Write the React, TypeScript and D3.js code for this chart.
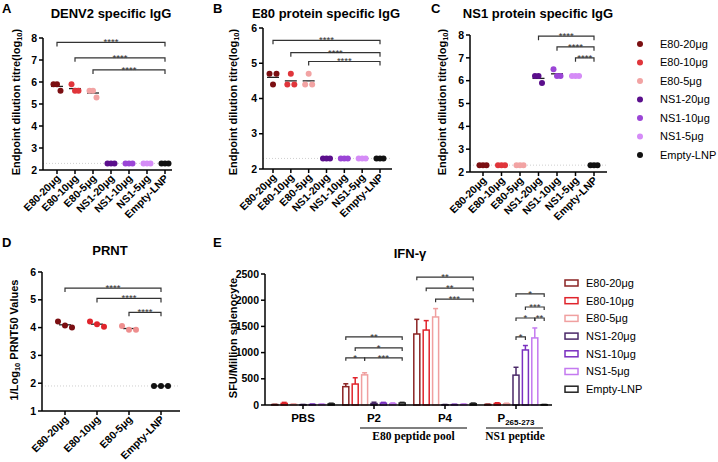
import React from "react";
import * as d3 from "d3";

const FONT = "'Liberation Sans', Arial, Helvetica, sans-serif";
const SERIF = "'Liberation Serif', 'Times New Roman', serif";

// groups used in A, B, C and legend
const groups = ["E80-20μg", "E80-10μg", "E80-5μg", "NS1-20μg", "NS1-10μg", "NS1-5μg", "Empty-LNP"];
const dotColours = ["#7b0f12", "#e0353b", "#f2a3a3", "#5b0f8c", "#9b45d6", "#d58cf7", "#111111"];
const barColours = ["#8b2323", "#e0242c", "#f0a0a0", "#4a2968", "#7a2fc0", "#c47af0", "#222222"];

// A: DENV2 specific IgG (log10 titre), 3 mice per group
const denvValues = [
  [5.9, 5.9, 5.6],
  [5.9, 5.6, 5.6],
  [5.6, 5.6, 5.3],
  [2.3, 2.3, 2.3],
  [2.3, 2.3, 2.3],
  [2.3, 2.3, 2.3],
  [2.3, 2.3, 2.3]
];
const denvSig = [
  { from: 0, to: 6, v: 7.8, label: "****" },
  { from: 1, to: 6, v: 7.1, label: "****" },
  { from: 2, to: 6, v: 6.55, label: "****" }
];

// B: E80 protein specific IgG
const e80Values = [
  [4.7, 4.4, 4.7],
  [4.4, 4.7, 4.4],
  [4.4, 4.7, 4.4],
  [2.3, 2.3, 2.3],
  [2.3, 2.3, 2.3],
  [2.3, 2.3, 2.3],
  [2.3, 2.3, 2.3]
];
const e80Sig = [
  { from: 0, to: 6, v: 5.65, label: "****" },
  { from: 1, to: 6, v: 5.3, label: "****" },
  { from: 2, to: 6, v: 5.05, label: "****" }
];

// C: NS1 protein specific IgG
const ns1Values = [
  [2.3, 2.3, 2.3],
  [2.3, 2.3, 2.3],
  [2.3, 2.3, 2.3],
  [6.2, 6.2, 5.9],
  [6.5, 6.2, 6.2],
  [6.2, 6.2, 6.2],
  [2.3, 2.3, 2.3]
];
const ns1Sig = [
  { from: 3, to: 6, v: 7.95, label: "****" },
  { from: 4, to: 6, v: 7.48, label: "****" },
  { from: 5, to: 6, v: 7.0, label: "****" }
];

// D: PRNT
const prntGroups = ["E80-20μg", "E80-10μg", "E80-5μg", "Empty-LNP"];
const prntColours = ["#7b0f12", "#e0242c", "#ee8e8e", "#111111"];
const prntValues = [
  [4.22, 4.08, 4.0],
  [4.22, 4.12, 4.03],
  [4.06, 3.92, 3.92],
  [1.9, 1.9, 1.9]
];
const prntSig = [
  { from: 0, to: 3, v: 5.42, label: "****" },
  { from: 1, to: 3, v: 5.05, label: "****" },
  { from: 2, to: 3, v: 4.55, label: "****" }
];

// E: IFN-γ ELISpot (SFU / million splenocytes), mean and SEM per stimulus
const stimuli = ["PBS", "P2", "P4", "P265"];
const ifnPBS = [8, 30, 12, 6, 10, 12, 22];
const ifnPBSErr = [5, 20, 8, 4, 8, 6, 12];
const ifnP2 = [350, 400, 575, 28, 35, 25, 38];
const ifnP2Err = [55, 120, 40, 25, 15, 15, 12];
const ifnP4 = [1355, 1430, 1680, 5, 8, 12, 25];
const ifnP4Err = [280, 180, 160, 5, 6, 8, 12];
const ifnP265 = [10, 28, 22, 570, 1050, 1280, 6];
const ifnP265Err = [6, 15, 12, 150, 85, 190, 4];
const ifnSig = [
  { s: 1, from: 0, to: 6, v: 1300, label: "**" },
  { s: 1, from: 1, to: 6, v: 1090, label: "*" },
  { s: 1, from: 0, to: 2, v: 900, label: "*" },
  { s: 1, from: 2, to: 6, v: 900, label: "***" },
  { s: 2, from: 0, to: 6, v: 2440, label: "**" },
  { s: 2, from: 1, to: 6, v: 2230, label: "**" },
  { s: 2, from: 2, to: 6, v: 2020, label: "***" },
  { s: 3, from: 3, to: 6, v: 2120, label: "*" },
  { s: 3, from: 4, to: 6, v: 1870, label: "***" },
  { s: 3, from: 3, to: 5, v: 1660, label: "*" },
  { s: 3, from: 5, to: 6, v: 1660, label: "**" },
  { s: 3, from: 3, to: 4, v: 1300, label: "*" }
];

function Bracket({ x1, x2, y, label, tick = 4 }) {
  return (
    <g>
      <path
        d={`M${x1},${y + tick}V${y}H${x2}V${y + tick}`}
        fill="none"
        stroke="#333"
        strokeWidth={1.2}
      />
      <text
        x={(x1 + x2) / 2}
        y={y + 3}
        textAnchor="middle"
        fontSize={9.5}
        fontFamily={FONT}
        fill="#333"
      >
        {label}
      </text>
    </g>
  );
}

function YLabel({ x, y, children }) {
  return (
    <text
      transform={`translate(${x},${y}) rotate(-90)`}
      textAnchor="middle"
      dominantBaseline="middle"
      fontSize={11}
      fontWeight="bold"
      fontFamily={FONT}
    >
      {children}
    </text>
  );
}

function DotPanel({
  letter, letterX, letterY, title, titleX, titleY,
  ylabel, ylabelX, ylabelY,
  cats, values, colours, domain, yRange, catRange, axisRange,
  lod, sig, spread
}) {
  const x = d3.scalePoint().domain(cats).range(catRange);
  const y = d3.scaleLinear().domain(domain).range(yRange);
  const y0 = yRange[0];
  const offsets = [-spread, 0, spread];
  return (
    <g fontFamily={FONT}>
      <text x={letterX} y={letterY} fontSize={13} fontWeight="bold">{letter}</text>
      <text x={titleX} y={titleY} fontSize={13} fontWeight="bold" textAnchor="middle">{title}</text>
      <YLabel x={ylabelX} y={ylabelY}>{ylabel}</YLabel>
      {/* limit of detection */}
      <line x1={axisRange[0]} x2={axisRange[1]} y1={y(lod)} y2={y(lod)} stroke="#cfcfcf" strokeDasharray="1 2" />
      {/* y axis */}
      <line x1={axisRange[0]} x2={axisRange[0]} y1={y0} y2={yRange[1]} stroke="#000" strokeWidth={1.5} />
      {y.ticks(domain[1] - domain[0]).map(t => (
        <g key={t}>
          <line x1={axisRange[0] - 4} x2={axisRange[0]} y1={y(t)} y2={y(t)} stroke="#000" strokeWidth={1.5} />
          <text x={axisRange[0] - 6} y={y(t)} dy="0.35em" textAnchor="end" fontSize={10.5} fontWeight="bold">{t}</text>
        </g>
      ))}
      {/* x axis */}
      <line x1={axisRange[0]} x2={axisRange[1]} y1={y0} y2={y0} stroke="#000" strokeWidth={1.5} />
      {cats.map(c => (
        <g key={c}>
          <line x1={x(c)} x2={x(c)} y1={y0} y2={y0 + 4} stroke="#000" strokeWidth={1.5} />
          <text
            transform={`translate(${x(c) + 4},${y0 + 9}) rotate(-45)`}
            textAnchor="end"
            fontSize={10.5}
            fontWeight="bold"
          >
            {c}
          </text>
        </g>
      ))}
      {/* points + mean */}
      {values.map((vals, i) => {
        const cx = x(cats[i]);
        const m = d3.mean(vals);
        return (
          <g key={i}>
            <line x1={cx - 6} x2={cx + 6} y1={y(m)} y2={y(m)} stroke="#222" strokeWidth={1.3} />
            {vals.map((v, j) => (
              <circle key={j} cx={cx + offsets[j]} cy={y(v)} r={3} fill={colours[i]} />
            ))}
          </g>
        );
      })}
      {sig.map((s, i) => (
        <Bracket key={i} x1={x(cats[s.from])} x2={x(cats[s.to])} y={y(s.v)} label={s.label} />
      ))}
    </g>
  );
}

function BarPanel() {
  const gx = d3.scalePoint().domain(stimuli).range([303, 516]);
  const inner = d3.scaleBand().domain(groups).range([-31.2, 31.2]).paddingInner(0.36);
  const bw = inner.bandwidth();
  const y = d3.scaleLinear().domain([0, 2500]).range([405, 274]);
  const y0 = y(0);
  const means = [ifnPBS, ifnP2, ifnP4, ifnP265];
  const errs = [ifnPBSErr, ifnP2Err, ifnP4Err, ifnP265Err];
  const axisX0 = 265;
  const axisX1 = 552;
  const barX = (s, g) => gx(stimuli[s]) + inner(groups[g]) + bw / 2;
  return (
    <g fontFamily={FONT}>
      <text x={213} y={247} fontSize={13} fontWeight="bold">E</text>
      <text x={410} y={258} fontSize={13} fontWeight="bold" textAnchor="middle">IFN-γ</text>
      <YLabel x={234} y={338}>SFU/Million splenocyte</YLabel>
      <line x1={axisX0} x2={axisX0} y1={y0} y2={y(2500)} stroke="#000" strokeWidth={1.5} />
      {y.ticks(5).map(t => (
        <g key={t}>
          <line x1={axisX0 - 4} x2={axisX0} y1={y(t)} y2={y(t)} stroke="#000" strokeWidth={1.5} />
          <text x={axisX0 - 6} y={y(t)} dy="0.35em" textAnchor="end" fontSize={10.5} fontWeight="bold">{t}</text>
        </g>
      ))}
      {means.map((row, s) =>
        row.map((v, g) => {
          const cx = barX(s, g);
          const top = y(v);
          const et = y(v + errs[s][g]);
          return (
            <g key={`${s}-${g}`} stroke={barColours[g]} strokeWidth={1.5}>
              <line x1={cx} x2={cx} y1={top} y2={et} />
              <line x1={cx - 2.5} x2={cx + 2.5} y1={et} y2={et} />
              <rect x={cx - bw / 2} y={top} width={bw} height={y0 - top} fill="#fff" />
            </g>
          );
        })
      )}
      <line x1={axisX0} x2={axisX1} y1={y0} y2={y0} stroke="#000" strokeWidth={1.5} />
      {stimuli.map(s => (
        <g key={s}>
          <line x1={gx(s)} x2={gx(s)} y1={y0} y2={y0 + 4} stroke="#000" strokeWidth={1.5} />
          <text x={gx(s)} y={422} textAnchor="middle" fontSize={11.5} fontWeight="bold">
            {s === "P265" ? (
              <>
                P<tspan fontSize={8} dy={3}>265-273</tspan>
              </>
            ) : s}
          </text>
        </g>
      ))}
      <line x1={gx("P2") - 14} x2={gx("P4") + 22} y1={428} y2={428} stroke="#000" strokeWidth={1.2} />
      <text x={(gx("P2") + gx("P4")) / 2 + 4} y={440} textAnchor="middle" fontSize={11.5} fontWeight="bold" fontFamily={SERIF}>
        E80 peptide pool
      </text>
      <line x1={gx("P265") - 30} x2={gx("P265") + 27} y1={428} y2={428} stroke="#000" strokeWidth={1.2} />
      <text x={gx("P265") - 1} y={440} textAnchor="middle" fontSize={11.5} fontWeight="bold" fontFamily={SERIF}>
        NS1 peptide
      </text>
      {ifnSig.map((b, i) => (
        <Bracket key={i} x1={barX(b.s, b.from)} x2={barX(b.s, b.to)} y={y(b.v)} label={b.label} tick={3} />
      ))}
      {/* legend */}
      {groups.map((g, i) => (
        <g key={g}>
          <rect x={565} y={283 + i * 17.7 - 3} width={13} height={6} fill="#fff" stroke={barColours[i]} strokeWidth={1.5} />
          <text x={586} y={283 + i * 17.7} dy="0.35em" fontSize={11}>{g}</text>
        </g>
      ))}
    </g>
  );
}

export default function App() {
  const sub = (pre, post) => (
    <>
      {pre}
      <tspan fontSize={7.5} dy={3}>10</tspan>
      <tspan dy={-3}>{post}</tspan>
    </>
  );
  return (
    <svg width={718} height={462} style={{ position: "absolute", left: 0, top: 0, background: "#fff" }}>
      <DotPanel
        letter="A" letterX={2} letterY={13}
        title="DENV2 specific IgG" titleX={111} titleY={18}
        ylabel={sub("Endpoint dilution titre(log", ")")} ylabelX={17} ylabelY={102}
        cats={groups} values={denvValues} colours={dotColours}
        domain={[2, 8]} yRange={[170, 38]} catRange={[57, 165]} axisRange={[43, 172]}
        lod={2.3} sig={denvSig} spread={3.5}
      />
      <DotPanel
        letter="B" letterX={213} letterY={13}
        title="E80 protein specific IgG" titleX={326} titleY={18}
        ylabel={sub("Endpoint dilution titre(log", ")")} ylabelX={234} ylabelY={102}
        cats={groups} values={e80Values} colours={dotColours}
        domain={[2, 6]} yRange={[169, 28]} catRange={[273, 380]} axisRange={[263, 392]}
        lod={2.3} sig={e80Sig} spread={3.5}
      />
      <DotPanel
        letter="C" letterX={431} letterY={13}
        title="NS1 protein specific IgG" titleX={538} titleY={18}
        ylabel={sub("Endpoint dilution titre(log", ")")} ylabelX={443} ylabelY={102}
        cats={groups} values={ns1Values} colours={dotColours}
        domain={[2, 8]} yRange={[172, 35]} catRange={[483, 594]} axisRange={[470, 607]}
        lod={2.3} sig={ns1Sig} spread={3.5}
      />
      <g fontFamily={FONT}>
        {groups.map((g, i) => (
          <g key={g}>
            <circle cx={640} cy={44 + i * 18.5} r={3} fill={dotColours[i]} />
            <text x={660} y={44 + i * 18.5} dy="0.35em" fontSize={11}>{g}</text>
          </g>
        ))}
      </g>
      <DotPanel
        letter="D" letterX={2} letterY={247}
        title="PRNT" titleX={110} titleY={255}
        ylabel={sub("1/Log", " PRNT50 Values")} ylabelX={15} ylabelY={340}
        cats={prntGroups} values={prntValues} colours={prntColours}
        domain={[1, 6]} yRange={[411, 272]} catRange={[65, 161]} axisRange={[42, 180]}
        lod={1.9} sig={prntSig} spread={7}
      />
      <BarPanel />
    </svg>
  );
}
